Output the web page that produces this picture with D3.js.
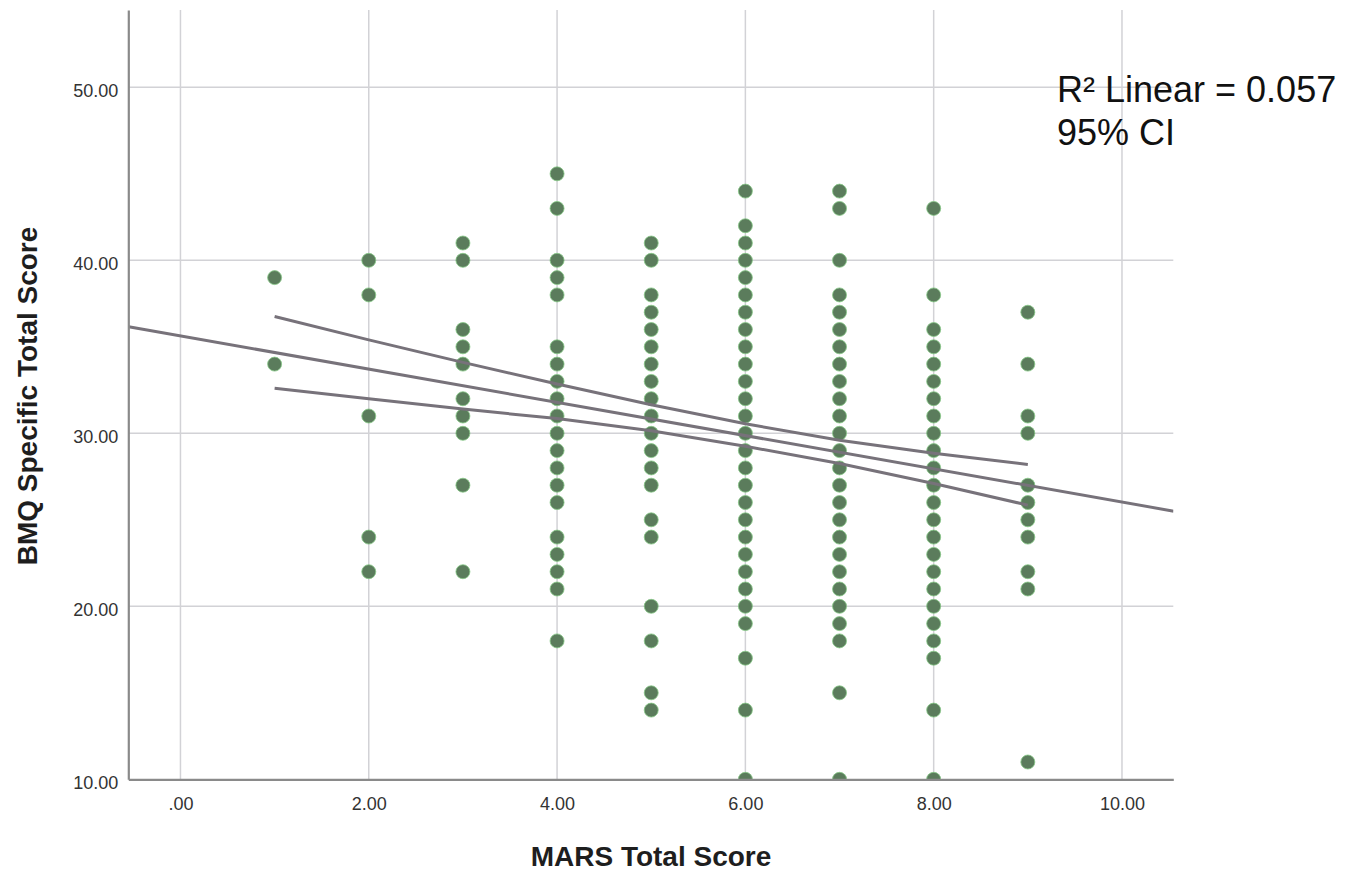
<!DOCTYPE html>
<html>
<head>
<meta charset="utf-8">
<script src="https://cdn.jsdelivr.net/npm/d3@7"></script>
<style>
  body { margin: 0; background: #fff; }
  text { font-family: "Liberation Sans", Arial, sans-serif; }
</style>
</head>
<body>
<div id="chart-container"></div>
<script>
// MARS vs BMQ scatter, with linear fit and 95% CI

const marsScores = [1, 2, 3, 4, 5, 6, 7, 8, 9];
const bmqByMars = [
    [39, 34],
    [40, 38, 31, 24, 22],
    [41, 40, 36, 35, 34, 32, 31, 30, 27, 22],
    [45, 43, 40, 39, 38, 35, 34, 33, 32, 31, 30, 29, 28, 27, 26, 24, 23, 22, 21, 18],
    [41, 40, 38, 37, 36, 35, 34, 33, 32, 31, 30, 29, 28, 27, 25, 24, 20, 18, 15, 14],
    [44, 42, 41, 40, 39, 38, 37, 36, 35, 34, 33, 32, 31, 30, 29, 28, 27, 26, 25, 24, 23, 22, 21, 20, 19, 17, 14, 10],
    [44, 43, 40, 38, 37, 36, 35, 34, 33, 32, 31, 30, 29, 28, 27, 26, 25, 24, 23, 22, 21, 20, 19, 18, 15, 10],
    [43, 38, 36, 35, 34, 33, 32, 31, 30, 29, 28, 27, 26, 25, 24, 23, 22, 21, 20, 19, 18, 17, 14, 10],
    [37, 34, 31, 30, 27, 26, 25, 24, 22, 21, 11]
];

// fit line, read at the plot edges
const fitX = [-0.55, 10.55];
const fitY = [36.16, 25.5];

// confidence band, read at each MARS score
const ciX = [1, 2, 3, 4, 5, 6, 7, 8, 9];
const ciUpper = [36.75, 35.4, 34.1, 32.85, 31.65, 30.55, 29.6, 28.85, 28.2];
const ciLower = [32.6, 32.0, 31.4, 30.85, 30.15, 29.25, 28.25, 27.1, 25.85];

const xTicks = [0, 2, 4, 6, 8, 10];
const xTickLabels = [".00", "2.00", "4.00", "6.00", "8.00", "10.00"];
const yTicks = [10, 20, 30, 40, 50];
const yTickLabels = ["10.00", "20.00", "30.00", "40.00", "50.00"];

const legendLines = ["R\u00B2 Linear = 0.057", "95% CI"];

const W = 1349, H = 871;
const plotL = 128.3, plotR = 1173.3, plotT = 10, plotB = 779.3;

const svg = d3.select("#chart-container")
    .append("svg")
    .attr("width", W)
    .attr("height", H);

const x = d3.scaleLinear().domain([-0.554, 10.545]).range([plotL, plotR]);
const y = d3.scaleLinear().domain([10, 54.47]).range([plotB, plotT]);

svg.append("defs").append("clipPath").attr("id", "plot-clip")
    .append("rect")
    .attr("x", plotL).attr("y", plotT)
    .attr("width", plotR - plotL).attr("height", plotB - plotT);

// grid
svg.append("g").selectAll("line")
    .data(xTicks)
    .enter()
    .append("line")
    .attr("x1", d => x(d)).attr("x2", d => x(d))
    .attr("y1", plotT).attr("y2", plotB)
    .attr("stroke", "#d2d2d6")
    .attr("stroke-width", 1.5);

svg.append("g").selectAll("line")
    .data(yTicks.slice(1))
    .enter()
    .append("line")
    .attr("x1", plotL).attr("x2", plotR)
    .attr("y1", d => y(d)).attr("y2", d => y(d))
    .attr("stroke", "#d2d2d6")
    .attr("stroke-width", 1.5);

// points
const points = [];
marsScores.forEach((m, i) => bmqByMars[i].forEach(v => points.push({ mars: m, bmq: v })));

svg.append("g")
    .attr("clip-path", "url(#plot-clip)")
    .selectAll("circle")
    .data(points)
    .enter()
    .append("circle")
    .attr("cx", d => x(d.mars))
    .attr("cy", d => y(d.bmq))
    .attr("r", 7)
    .attr("fill", "#5b7c5c")
    .attr("stroke", "#86c986")
    .attr("stroke-width", 0.8);

// fit and CI lines
const line = d3.line().x(d => x(d[0])).y(d => y(d[1]));
const lineG = svg.append("g").attr("clip-path", "url(#plot-clip)");

lineG.append("path")
    .attr("d", line(fitX.map((v, i) => [v, fitY[i]])))
    .attr("fill", "none")
    .attr("stroke", "#77727a")
    .attr("stroke-width", 3);

[ciUpper, ciLower].forEach(arr => {
    lineG.append("path")
        .attr("d", line(ciX.map((v, i) => [v, arr[i]])))
        .attr("fill", "none")
        .attr("stroke", "#77727a")
        .attr("stroke-width", 3);
});

// axes
const xAxis = svg.append("g")
    .attr("transform", `translate(0, ${plotB})`)
    .call(d3.axisBottom(x)
        .tickValues(xTicks)
        .tickFormat((d, i) => xTickLabels[i])
        .tickSize(0)
        .tickPadding(18));

const yAxis = svg.append("g")
    .attr("transform", `translate(${plotL}, 0)`)
    .call(d3.axisLeft(y)
        .tickValues(yTicks)
        .tickFormat((d, i) => yTickLabels[i])
        .tickSize(0)
        .tickPadding(10));

[xAxis, yAxis].forEach(a => {
    a.select(".domain").attr("stroke", "#8a8a8a").attr("stroke-width", 2.2);
    a.selectAll("text")
        .style("font-size", "18px")
        .style("font-family", "'Liberation Sans', Arial, sans-serif")
        .attr("fill", "#333");
});
yAxis.selectAll("text").attr("dy", "0.52em");

// axis titles
svg.append("text")
    .attr("x", 651)
    .attr("y", 866)
    .attr("text-anchor", "middle")
    .style("font-size", "28px")
    .style("font-weight", "bold")
    .attr("fill", "#1e1e1e")
    .text("MARS Total Score");

svg.append("text")
    .attr("transform", "translate(37, 396) rotate(-90)")
    .attr("text-anchor", "middle")
    .style("font-size", "28px")
    .style("font-weight", "bold")
    .attr("fill", "#1e1e1e")
    .text("BMQ Specific Total Score");

// legend text
svg.append("g").selectAll("text")
    .data(legendLines)
    .enter()
    .append("text")
    .attr("x", 1057)
    .attr("y", (d, i) => 102 + i * 43)
    .style("font-size", "36px")
    .attr("fill", "#111")
    .text(d => d);
</script>
</body>
</html>
